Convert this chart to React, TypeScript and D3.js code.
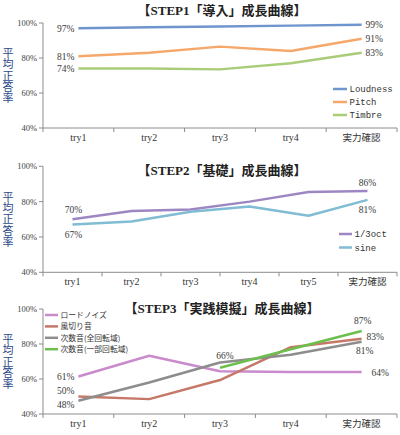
import React from "react";
import * as d3 from "d3";

// ---------- data ----------
const CATS_5 = ["try1", "try2", "try3", "try4", "実力確認"];
const CATS_6 = ["try1", "try2", "try3", "try4", "try5", "実力確認"];
const Y_TICKS = [40, 60, 80, 100];

const LOUDNESS = [97, 97.6, 98, 98.5, 99];
const PITCH = [81, 83, 86.5, 84, 91];
const TIMBRE = [74, 74, 73.5, 77, 83];

const OCT_13 = [70, 74.7, 75.6, 80, 85.5, 86];
const SINE = [67, 68.7, 74.3, 77.2, 72, 81];

const ROAD = [61.4, 73.3, 64.4, 64, 64];
const WIND = [50, 48.5, 59.4, 78.2, 83];
const JISU_ALL = [47.6, 58, 69.4, 73.9, 81.3];
const JISU_PART = [null, null, 66.4, 77, 87.4];

const SERIES_1 = [
  { name: "Loudness", values: LOUDNESS, color: "#6f95cf" },
  { name: "Pitch", values: PITCH, color: "#f5a86a" },
  { name: "Timbre", values: TIMBRE, color: "#a9cc78" },
];
const SERIES_2 = [
  { name: "1/3oct", values: OCT_13, color: "#9d87c2" },
  { name: "sine", values: SINE, color: "#80bcd3" },
];
const SERIES_3 = [
  { name: "ロードノイズ", values: ROAD, color: "#c98bcb" },
  { name: "風切り音", values: WIND, color: "#c67868" },
  { name: "次数音(全回転域)", values: JISU_ALL, color: "#8d8d8d" },
  { name: "次数音(一部回転域)", values: JISU_PART, color: "#6cbf4c" },
];

const TITLE_1 = "【STEP1「導入」成長曲線】";
const TITLE_2 = "【STEP2「基礎」成長曲線】";
const TITLE_3 = "【STEP3「実践模擬」成長曲線】";
const Y_LABEL = "平均正答率";

// annotation placement (series index, point index, offsets)
const LABELS_1 = [
  { s: 0, i: 0, dx: -4, dy: 0, a: "end" },
  { s: 1, i: 0, dx: -4, dy: 0, a: "end" },
  { s: 2, i: 0, dx: -4, dy: 0, a: "end" },
  { s: 0, i: 4, dx: 4, dy: 0, a: "start" },
  { s: 1, i: 4, dx: 4, dy: 0, a: "start" },
  { s: 2, i: 4, dx: 4, dy: 0, a: "start" },
];
const LABELS_2 = [
  { s: 0, i: 0, dx: 1, dy: -10, a: "middle" },
  { s: 1, i: 0, dx: 1, dy: 10, a: "middle" },
  { s: 0, i: 5, dx: 0, dy: -8, a: "middle" },
  { s: 1, i: 5, dx: 0, dy: 10, a: "middle" },
];
const LABELS_3 = [
  { s: 0, i: 0, dx: -4, dy: 0, a: "end" },
  { s: 1, i: 0, dx: -4, dy: -6, a: "end" },
  { s: 2, i: 0, dx: -4, dy: 4, a: "end" },
  { s: 3, i: 2, dx: 5, dy: -12.5, a: "middle" },
  { s: 3, i: 4, dx: 1, dy: -10, a: "middle" },
  { s: 1, i: 4, dx: 5, dy: -2.5, a: "start" },
  { s: 2, i: 4, dx: 3, dy: 9, a: "middle" },
  { s: 0, i: 4, dx: 10, dy: 1, a: "start" },
];

const SERIF = "'Liberation Serif', 'Noto Sans CJK JP', serif";
const MONO = "'Liberation Mono', monospace";
const CJK = "'Noto Sans CJK JP', sans-serif";

type Series = { name: string; values: (number | null)[]; color: string };

function Chart(props: {
  cats: string[];
  series: Series[];
  x0: number;
  x1: number;
  yTop: number;
  yBot: number;
  title: string;
  titleX: number;
  titleY: number;
  labels: { s: number; i: number; dx: number; dy: number; a: string }[];
  legend: { x: number; y: number; dy: number; len: number; font: string; size: number };
}) {
  const { cats, series, x0, x1, yTop, yBot, title, titleX, titleY, labels, legend } = props;
  const x = d3.scaleBand<string>().domain(cats).range([x0, x1]);
  const y = d3.scaleLinear().domain([40, 100]).range([yBot, yTop]);
  const cx = (c: string) => (x(c) as number) + x.bandwidth() / 2;
  const line = d3
    .line<number | null>()
    .defined((d) => d != null)
    .x((_, i) => cx(cats[i]))
    .y((d) => y(d as number));
  const axisColor = "#8c8c8c";
  const cy = (yTop + yBot) / 2;
  const isAscii = (c: string) => /^[\x00-\x7f]+$/.test(c);
  return (
    <g>
      {/* y axis */}
      <line x1={x0} x2={x0} y1={yTop} y2={yBot} stroke={axisColor} strokeWidth={1} />
      {Y_TICKS.map((t) => (
        <g key={t}>
          <line x1={x0 - 4} x2={x0} y1={y(t)} y2={y(t)} stroke={axisColor} />
          <text
            x={x0 - 6}
            y={y(t)}
            dy="0.35em"
            textAnchor="end"
            fontFamily={SERIF}
            fontSize={8.5}
            fill="#444"
          >
            {t}%
          </text>
        </g>
      ))}
      {/* x axis */}
      <line x1={x0} x2={x1} y1={yBot} y2={yBot} stroke={axisColor} strokeWidth={1} />
      {[...cats.map((c) => x(c) as number), x1].map((b, k) => (
        <line key={k} x1={b} x2={b} y1={yBot} y2={yBot + 4} stroke={axisColor} />
      ))}
      {cats.map((c) => (
        <text
          key={c}
          x={cx(c)}
          y={yBot + 13}
          textAnchor="middle"
          fontFamily={isAscii(c) ? SERIF : CJK}
          fontSize={isAscii(c) ? 10 : 9.5}
          fill="#333"
        >
          {c}
        </text>
      ))}
      {/* y label (vertical) */}
      <text
        x={8}
        y={cy}
        textAnchor="middle"
        fontFamily={CJK}
        fontSize={11}
        fill="#2c4a8a"
        style={{ writingMode: "vertical-rl", letterSpacing: "0.3px" } as any}
      >
        {Y_LABEL}
      </text>
      {/* title */}
      <text
        x={titleX}
        y={titleY}
        textAnchor="middle"
        fontFamily={SERIF}
        fontWeight="bold"
        fontSize={13}
        fill="#222"
      >
        {title}
      </text>
      {/* lines */}
      {series.map((s) => (
        <path
          key={s.name}
          d={line(s.values) as string}
          fill="none"
          stroke={s.color}
          strokeWidth={2.5}
          strokeLinejoin="round"
        />
      ))}
      {/* data labels */}
      {labels.map((l, k) => {
        const v = series[l.s].values[l.i] as number;
        return (
          <text
            key={k}
            x={cx(cats[l.i]) + l.dx}
            y={y(v) + l.dy}
            dy="0.35em"
            textAnchor={l.a as any}
            fontFamily={SERIF}
            fontSize={9.5}
            fill="#3a3a3a"
          >
            {Math.round(v)}%
          </text>
        );
      })}
      {/* legend */}
      {series.map((s, k) => (
        <g key={s.name}>
          <line
            x1={legend.x}
            x2={legend.x + legend.len}
            y1={legend.y + k * legend.dy}
            y2={legend.y + k * legend.dy}
            stroke={s.color}
            strokeWidth={2.5}
          />
          <text
            x={legend.x + legend.len + 2.5}
            y={legend.y + k * legend.dy}
            dy="0.35em"
            fontFamily={legend.font}
            fontSize={legend.size}
            fill="#333"
          >
            {s.name}
          </text>
        </g>
      ))}
    </g>
  );
}

export default function App() {
  return (
    <div style={{ position: "fixed", left: 0, top: 0 }}>
      <svg width={400} height={435} style={{ display: "block", background: "#fff" }}>
        <Chart
          cats={CATS_5}
          series={SERIES_1}
          x0={43}
          x1={397}
          yTop={23}
          yBot={128}
          title={TITLE_1}
          titleX={222}
          titleY={15}
          labels={LABELS_1}
          legend={{ x: 333, y: 89, dy: 13, len: 14, font: MONO, size: 9 }}
        />
        <Chart
          cats={CATS_6}
          series={SERIES_2}
          x0={43}
          x1={397}
          yTop={166.3}
          yBot={272.3}
          title={TITLE_2}
          titleX={222}
          titleY={174.5}
          labels={LABELS_2}
          legend={{ x: 339, y: 234, dy: 13.5, len: 13, font: MONO, size: 9 }}
        />
        <Chart
          cats={CATS_5}
          series={SERIES_3}
          x0={43}
          x1={397}
          yTop={309}
          yBot={414}
          title={TITLE_3}
          titleX={222}
          titleY={313}
          labels={LABELS_3}
          legend={{ x: 45, y: 315, dy: 11.4, len: 13, font: CJK, size: 7.8 }}
        />
      </svg>
    </div>
  );
}
